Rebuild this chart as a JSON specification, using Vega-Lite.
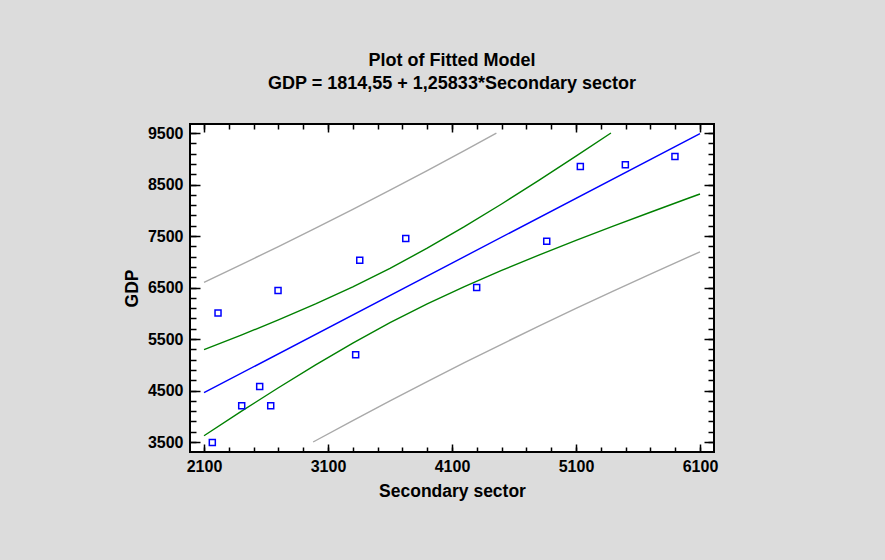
{
  "$schema": "https://vega.github.io/schema/vega-lite/v6.json",
  "width": 524,
  "height": 328,
  "autosize": {"type": "none"},
  "padding": {"left": 190, "top": 124, "right": 171, "bottom": 108},
  "background": "#dcdcdc",
  "config": {
    "view": {"fill": "white", "stroke": "black", "strokeWidth": 2},
    "font": "Liberation Sans",
    "axis": {"grid": false, "domain": false, "tickColor": "black", "tickWidth": 1.5, "labelColor": "black", "labelFont": "Liberation Sans", "labelFontWeight": "bold", "labelFontSize": 16, "titleFont": "Liberation Sans", "titleFontWeight": "bold", "titleFontSize": 17.5, "titleColor": "black", "format": "d"}
  },
  "title": {
    "text": ["Plot of Fitted Model", "GDP = 1814,55 + 1,25833*Secondary sector"],
    "fontSize": 18,
    "font": "Liberation Sans",
    "fontWeight": "bold",
    "color": "black",
    "anchor": "middle",
    "frame": "group",
    "offset": 30,
    "lineHeight": 23
  },
  "datasets": {
    "pred": [
      {"band": "upper", "x": 2100, "y": 6602}, {"band": "upper", "x": 2400, "y": 6945}, {"band": "upper", "x": 2700, "y": 7295}, {"band": "upper", "x": 3000, "y": 7652}, {"band": "upper", "x": 3300, "y": 8017}, {"band": "upper", "x": 3600, "y": 8390}, {"band": "upper", "x": 3900, "y": 8771}, {"band": "upper", "x": 4200, "y": 9159}, {"band": "upper", "x": 4458, "y": 9500},
      {"band": "lower", "x": 2980, "y": 3500}, {"band": "lower", "x": 3300, "y": 3917}, {"band": "lower", "x": 3600, "y": 4299}, {"band": "lower", "x": 3900, "y": 4673}, {"band": "lower", "x": 4200, "y": 5040}, {"band": "lower", "x": 4500, "y": 5398}, {"band": "lower", "x": 4800, "y": 5749}, {"band": "lower", "x": 5100, "y": 6093}, {"band": "lower", "x": 5400, "y": 6430}, {"band": "lower", "x": 5700, "y": 6761}, {"band": "lower", "x": 6000, "y": 7085}, {"band": "lower", "x": 6100, "y": 7192}
    ],
    "conf": [
      {"band": "upper", "x": 2100, "y": 5292}, {"band": "upper", "x": 2400, "y": 5576}, {"band": "upper", "x": 2700, "y": 5870}, {"band": "upper", "x": 3000, "y": 6181}, {"band": "upper", "x": 3300, "y": 6513}, {"band": "upper", "x": 3600, "y": 6873}, {"band": "upper", "x": 3900, "y": 7263}, {"band": "upper", "x": 4200, "y": 7681}, {"band": "upper", "x": 4500, "y": 8122}, {"band": "upper", "x": 4800, "y": 8580}, {"band": "upper", "x": 5100, "y": 9050}, {"band": "upper", "x": 5382, "y": 9500},
      {"band": "lower", "x": 2100, "y": 3622}, {"band": "lower", "x": 2400, "y": 4094}, {"band": "lower", "x": 2700, "y": 4554}, {"band": "lower", "x": 3000, "y": 4998}, {"band": "lower", "x": 3300, "y": 5421}, {"band": "lower", "x": 3600, "y": 5816}, {"band": "lower", "x": 3900, "y": 6181}, {"band": "lower", "x": 4200, "y": 6518}, {"band": "lower", "x": 4500, "y": 6832}, {"band": "lower", "x": 4800, "y": 7129}, {"band": "lower", "x": 5100, "y": 7414}, {"band": "lower", "x": 5400, "y": 7691}, {"band": "lower", "x": 5700, "y": 7961}, {"band": "lower", "x": 6000, "y": 8228}, {"band": "lower", "x": 6100, "y": 8316}
    ],
    "fit": [
      {"x": 2100, "y": 4457}, {"x": 4100, "y": 6974}, {"x": 6100, "y": 9490}
    ],
    "obs": [
      {"x": 2167, "y": 3492}, {"x": 2213, "y": 6004}, {"x": 2404, "y": 4203}, {"x": 2549, "y": 4578}, {"x": 2638, "y": 4203}, {"x": 2697, "y": 6442}, {"x": 3323, "y": 5196}, {"x": 3356, "y": 7031}, {"x": 3727, "y": 7450}, {"x": 4299, "y": 6500}, {"x": 4864, "y": 7397}, {"x": 5135, "y": 8849}, {"x": 5498, "y": 8882}, {"x": 5898, "y": 9043}
    ]
  },
  "layer": [
    {
      "data": {"name": "pred"},
      "mark": {"type": "line", "color": "#a9a9a9", "strokeWidth": 1.4},
      "encoding": {
        "x": {"field": "x", "type": "quantitative", "scale": {"domain": [1987, 6213], "nice": false, "zero": false},
          "axis": {"orient": "bottom", "title": "Secondary sector", "values": [2100, 3100, 4100, 5100, 6100], "tickSize": -8, "labelPadding": 14, "titlePadding": 8}},
        "y": {"field": "y", "type": "quantitative", "scale": {"domain": [3306, 9675], "nice": false, "zero": false},
          "axis": {"orient": "left", "title": "GDP", "values": [3500, 4500, 5500, 6500, 7500, 8500, 9500], "tickSize": -10, "labelPadding": 17, "titlePadding": 6}},
        "detail": {"field": "band"}
      }
    },
    {
      "data": {"name": "conf"},
      "mark": {"type": "line", "color": "#008000", "strokeWidth": 1.4},
      "encoding": {
        "x": {"field": "x", "type": "quantitative",
          "axis": {"orient": "bottom", "title": null, "labels": false, "values": [2100, 2300, 2500, 2700, 2900, 3100, 3300, 3500, 3700, 3900, 4100, 4300, 4500, 4700, 4900, 5100, 5300, 5500, 5700, 5900, 6100], "tickSize": -5}},
        "y": {"field": "y", "type": "quantitative",
          "axis": {"orient": "left", "title": null, "labels": false, "values": [3500, 3700, 3900, 4100, 4300, 4500, 4700, 4900, 5100, 5300, 5500, 5700, 5900, 6100, 6300, 6500, 6700, 6900, 7100, 7300, 7500, 7700, 7900, 8100, 8300, 8500, 8700, 8900, 9100, 9300, 9500], "tickSize": -6}},
        "detail": {"field": "band"}
      }
    },
    {
      "data": {"name": "fit"},
      "mark": {"type": "line", "color": "#0000ff", "strokeWidth": 1.4},
      "encoding": {
        "x": {"field": "x", "type": "quantitative",
          "axis": {"orient": "top", "title": null, "labels": false, "values": [2100, 3100, 4100, 5100, 6100], "tickSize": -8}},
        "y": {"field": "y", "type": "quantitative",
          "axis": {"orient": "right", "title": null, "labels": false, "values": [3500, 4500, 5500, 6500, 7500, 8500, 9500], "tickSize": -10}}
      }
    },
    {
      "data": {"name": "obs"},
      "mark": {"type": "point", "shape": "square", "filled": false, "color": "#0000ff", "size": 36, "strokeWidth": 1.5, "opacity": 1},
      "encoding": {
        "x": {"field": "x", "type": "quantitative",
          "axis": {"orient": "top", "title": null, "labels": false, "values": [2100, 2300, 2500, 2700, 2900, 3100, 3300, 3500, 3700, 3900, 4100, 4300, 4500, 4700, 4900, 5100, 5300, 5500, 5700, 5900, 6100], "tickSize": -5}},
        "y": {"field": "y", "type": "quantitative",
          "axis": {"orient": "right", "title": null, "labels": false, "values": [3500, 3700, 3900, 4100, 4300, 4500, 4700, 4900, 5100, 5300, 5500, 5700, 5900, 6100, 6300, 6500, 6700, 6900, 7100, 7300, 7500, 7700, 7900, 8100, 8300, 8500, 8700, 8900, 9100, 9300, 9500], "tickSize": -6}}
      }
    }
  ],
  "resolve": {"axis": {"x": "independent", "y": "independent"}}
}
